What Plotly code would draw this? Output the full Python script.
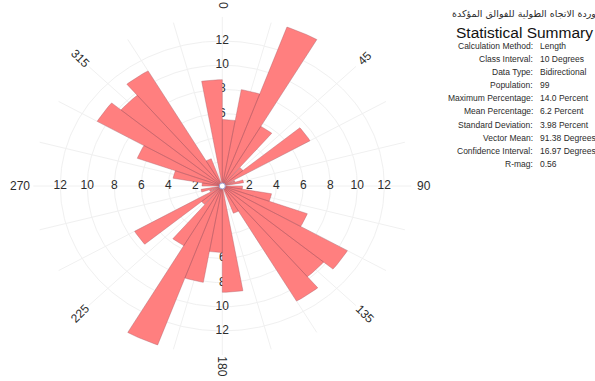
import numpy as np
import plotly.graph_objects as go

# Rose diagram of fault-length percentages, 10-degree classes from 0 to 180
# (bidirectional data: each class is repeated 180 degrees opposite).
class_start = list(range(0, 180, 10))
length_pct = [5.5, 8.1, 14.0, 5.7, 2.0, 7.5, 1.0, 1.6, 0.0, 1.5,
              3.7, 6.7, 10.7, 9.8, 11.0, 2.4, 0.0, 8.8]
class_width = 10

radial_ticks = [2, 4, 6, 8, 10, 12]
radial_label_angles = [0, 90, 180, 270]
angle_ticks = [0, 45, 90, 135, 180, 225, 270, 315]
spoke_angles = list(range(0, 360, 15))
outer_r = 14
angle_label_r = 14.95

chart_title = "وردة الاتجاه الطولية للفوالق المؤكدة"
summary_title = "Statistical Summary"
summary_labels = ["Calculation Method:", "Class Interval:", "Data Type:", "Population:",
                  "Maximum Percentage:", "Mean Percentage:", "Standard Deviation:",
                  "Vector Mean:", "Confidence Interval:", "R-mag:"]
summary_values = ["Length", "10 Degrees", "Bidirectional", "99", "14.0 Percent",
                  "6.2 Percent", "3.98 Percent", "91.38 Degrees", "16.97 Degrees", "0.56"]

W, H = 595, 381
# plot-unit scale in pixels (x and y) and centre of the rose in pixels
SX, SY = 13.5, 12.08
CX, CY = 222.3, 186.0
x_range = [-CX / SX, (W - CX) / SX]
y_range = [(CY - H) / SY, CY / SY]

NUM_FONT = "Liberation Sans, Arial, sans-serif"
BAR_FILL = "#FF7F7F"
BAR_EDGE = "rgba(170,90,100,0.55)"
GRID = "#F0F0F0"
TEXT = "#2b2b2b"


def compass_xy(r, deg):
    a = np.radians(deg)
    return r * np.sin(a), r * np.cos(a)


fig = go.Figure()

# concentric grid circles
gx, gy = [], []
t = np.linspace(0, 360, 361)
for r in radial_ticks:
    x, y = compass_xy(r, t)
    gx += list(x) + [None]
    gy += list(y) + [None]
fig.add_trace(go.Scatter(x=gx, y=gy, mode="lines", line=dict(color=GRID, width=1),
                         hoverinfo="skip"))

# radial spokes
sx, sy = [], []
for a in spoke_angles:
    x, y = compass_xy(outer_r, a)
    sx += [0, x, None]
    sy += [0, y, None]
fig.add_trace(go.Scatter(x=sx, y=sy, mode="lines", line=dict(color=GRID, width=1),
                         hoverinfo="skip"))

# radial tick labels along the four main directions (drawn beneath the petals)
lx, ly, lt = [], [], []
for a in radial_label_angles:
    for r in radial_ticks:
        x, y = compass_xy(r, a)
        lx.append(x)
        ly.append(y)
        lt.append(str(r))
fig.add_trace(go.Scatter(x=lx, y=ly, text=lt, mode="text",
                         textfont=dict(family=NUM_FONT, size=12, color=TEXT),
                         hoverinfo="skip"))

# petals
bx, by = [], []
for start, v in zip(class_start, length_pct):
    if v <= 0:
        continue
    for base in (start, start + 180):
        arc = np.linspace(base, base + class_width, 12)
        x, y = compass_xy(v, arc)
        bx += [0.0] + list(x) + [0.0, None]
        by += [0.0] + list(y) + [0.0, None]
fig.add_trace(go.Scatter(x=bx, y=by, mode="lines", fill="toself", fillcolor=BAR_FILL,
                         line=dict(color=BAR_EDGE, width=0.7), hoverinfo="skip"))

# centre marker
fig.add_trace(go.Scatter(x=[0], y=[0], mode="markers",
                         marker=dict(symbol="circle", size=6, color="white",
                                     line=dict(color="#9C9CCF", width=1)),
                         hoverinfo="skip"))

annotations = []
# compass labels, oriented along their spoke
for a in angle_ticks:
    x, y = compass_xy(angle_label_r, a)
    ang = a % 180 - 90
    if ang == -90:
        ang = 90
    annotations.append(dict(x=x, y=y, xref="x", yref="y", text=str(a), showarrow=False,
                            textangle=ang, xanchor="center", yanchor="middle",
                            font=dict(family=NUM_FONT, size=12, color=TEXT)))

# titles and statistical summary
annotations.append(dict(x=524 / W, y=1 - 13.5 / H, xref="paper", yref="paper",
                        text=chart_title, showarrow=False, xanchor="center", yanchor="middle",
                        font=dict(family="DejaVu Sans, sans-serif", size=9.5, color=TEXT)))
annotations.append(dict(x=524 / W, y=1 - 33 / H, xref="paper", yref="paper",
                        text=summary_title, showarrow=False, xanchor="center", yanchor="middle",
                        font=dict(family=NUM_FONT, size=15.5, color="#111111")))
row0, row_step = 45.7, 13.15
for i, (lab, val) in enumerate(zip(summary_labels, summary_values)):
    yy = 1 - (row0 + i * row_step) / H
    annotations.append(dict(x=535 / W, y=yy, xref="paper", yref="paper", text=lab,
                            showarrow=False, xanchor="right", yanchor="middle",
                            font=dict(family=NUM_FONT, size=8.5, color=TEXT)))
    annotations.append(dict(x=538 / W, y=yy, xref="paper", yref="paper", text=val,
                            showarrow=False, xanchor="left", yanchor="middle",
                            font=dict(family=NUM_FONT, size=8.5, color=TEXT)))

fig.update_layout(
    width=W, height=H,
    margin=dict(l=0, r=0, t=0, b=0),
    paper_bgcolor="white", plot_bgcolor="white",
    showlegend=False,
    xaxis=dict(range=x_range, visible=False, fixedrange=True),
    yaxis=dict(range=y_range, visible=False, fixedrange=True),
    annotations=annotations,
)

fig.write_html("out.html", config={"displayModeBar": False})
